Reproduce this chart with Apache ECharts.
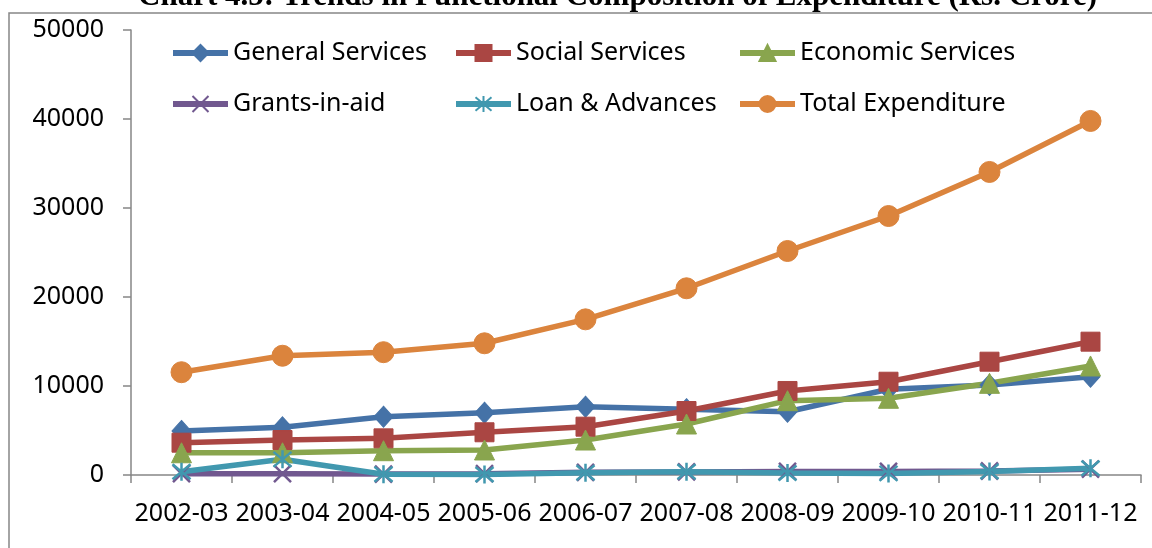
<!DOCTYPE html>
<html>
<head>
<meta charset="utf-8">
<script src="https://cdn.jsdelivr.net/npm/echarts@6/dist/echarts.min.js"></script>
<style>
html,body{margin:0;padding:0;background:#fff;}
#chart{width:1152px;height:548px;}
</style>
</head>
<body>
<div id="chart"></div>
<script>
const categories = ['2002-03','2003-04','2004-05','2005-06','2006-07','2007-08','2008-09','2009-10','2010-11','2011-12'];
const generalServices = [4950,5360,6550,7000,7670,7400,7110,9630,10110,11040];
const socialServices = [3630,3930,4120,4800,5430,7190,9440,10480,12730,14980];
const economicServices = [2500,2500,2730,2810,3930,5730,8350,8620,10300,12250];
const grantsInAid = [150,150,100,150,300,350,400,400,450,650];
const loanAdvances = [370,1760,80,50,260,370,230,180,400,750];
const totalExpenditure = [11550,13400,13800,14800,17490,20980,25170,29100,34050,39780];
const yTicks = [0,10000,20000,30000,40000,50000];

const FONT = 'Noto Sans';
const crossPath = 'path://M0 0L10 10M10 0L0 10';
const starPath = 'path://M0 0L10 10M10 0L0 10M5 -1L5 11';

function mk(name, data, color, symbol, size, stroked) {
  return {
    name: name,
    type: 'line',
    data: data,
    symbol: symbol,
    symbolSize: size,
    showAllSymbol: true,
    color: color,
    lineStyle: { color: color, width: 5.5 },
    itemStyle: stroked ? { color: color, borderColor: color, borderWidth: 2.5 } : { color: color, borderColor: color, borderWidth: 1 },
    emphasis: { disabled: true },
    animation: false
  };
}

const chart = echarts.init(document.getElementById('chart'), null, { renderer: 'canvas' });
const legendBase = {
  orient: 'horizontal',
  itemWidth: 55,
  itemHeight: 20,
  padding: 0,
  selectedMode: false,
  lineStyle: { width: 6 },
  textStyle: { fontFamily: FONT, fontSize: 25, color: '#000', lineHeight: 28 }
};
function lg(name, left, top) {
  return Object.assign({}, legendBase, { data: [name], left: left, top: top });
}
chart.setOption({
  animation: false,
  backgroundColor: '#fff',
  title: {
    text: 'Chart 4.5: Trends in Functional Composition of Expenditure (Rs. Crore)',
    left: 138,
    top: -19,
    padding: 0,
    textStyle: { fontFamily: 'Liberation Serif', fontWeight: 'bold', fontSize: 31, color: '#000' }
  },
  graphic: [{
    type: 'rect',
    shape: { x: 9, y: 13, width: 1300, height: 700 },
    style: { fill: 'none', stroke: '#868686', lineWidth: 1.5 },
    silent: true
  }],
  legend: [
    lg('General Services', 170, 39),
    lg('Social Services', 453, 39),
    lg('Economic Services', 737, 39),
    lg('Grants-in-aid', 170, 90),
    lg('Loan & Advances', 453, 90),
    lg('Total Expenditure', 737, 90)
  ],
  grid: { left: 131, right: 11, top: 30, bottom: 73, containLabel: false },
  xAxis: {
    type: 'category',
    data: categories,
    boundaryGap: true,
    axisLine: { show: true, lineStyle: { color: '#868686', width: 1.5 } },
    axisTick: { show: true, interval: 0, length: 8, lineStyle: { color: '#868686', width: 1.5 } },
    axisLabel: { interval: 0, margin: 26, fontFamily: FONT, fontSize: 25, color: '#000' },
    splitLine: { show: false }
  },
  yAxis: {
    type: 'value',
    min: yTicks[0],
    max: yTicks[yTicks.length - 1],
    interval: 10000,
    axisLine: { show: true, lineStyle: { color: '#868686', width: 1.5 } },
    axisTick: { show: true, length: 8, lineStyle: { color: '#868686', width: 1.5 } },
    axisLabel: { margin: 27, fontFamily: FONT, fontSize: 25, color: '#000', formatter: function (v) { return String(v); } },
    splitLine: { show: false }
  },
  series: [
    mk('General Services', generalServices, '#4572A7', 'diamond', [19, 21], false),
    mk('Social Services', socialServices, '#AA4643', 'rect', 19, false),
    mk('Economic Services', economicServices, '#89A54E', 'triangle', 20, false),
    mk('Grants-in-aid', grantsInAid, '#71588F', crossPath, 17, true),
    mk('Loan & Advances', loanAdvances, '#4198AF', starPath, 18, true),
    mk('Total Expenditure', totalExpenditure, '#DB843D', 'circle', 21, false)
  ]
});
</script>
</body>
</html>
